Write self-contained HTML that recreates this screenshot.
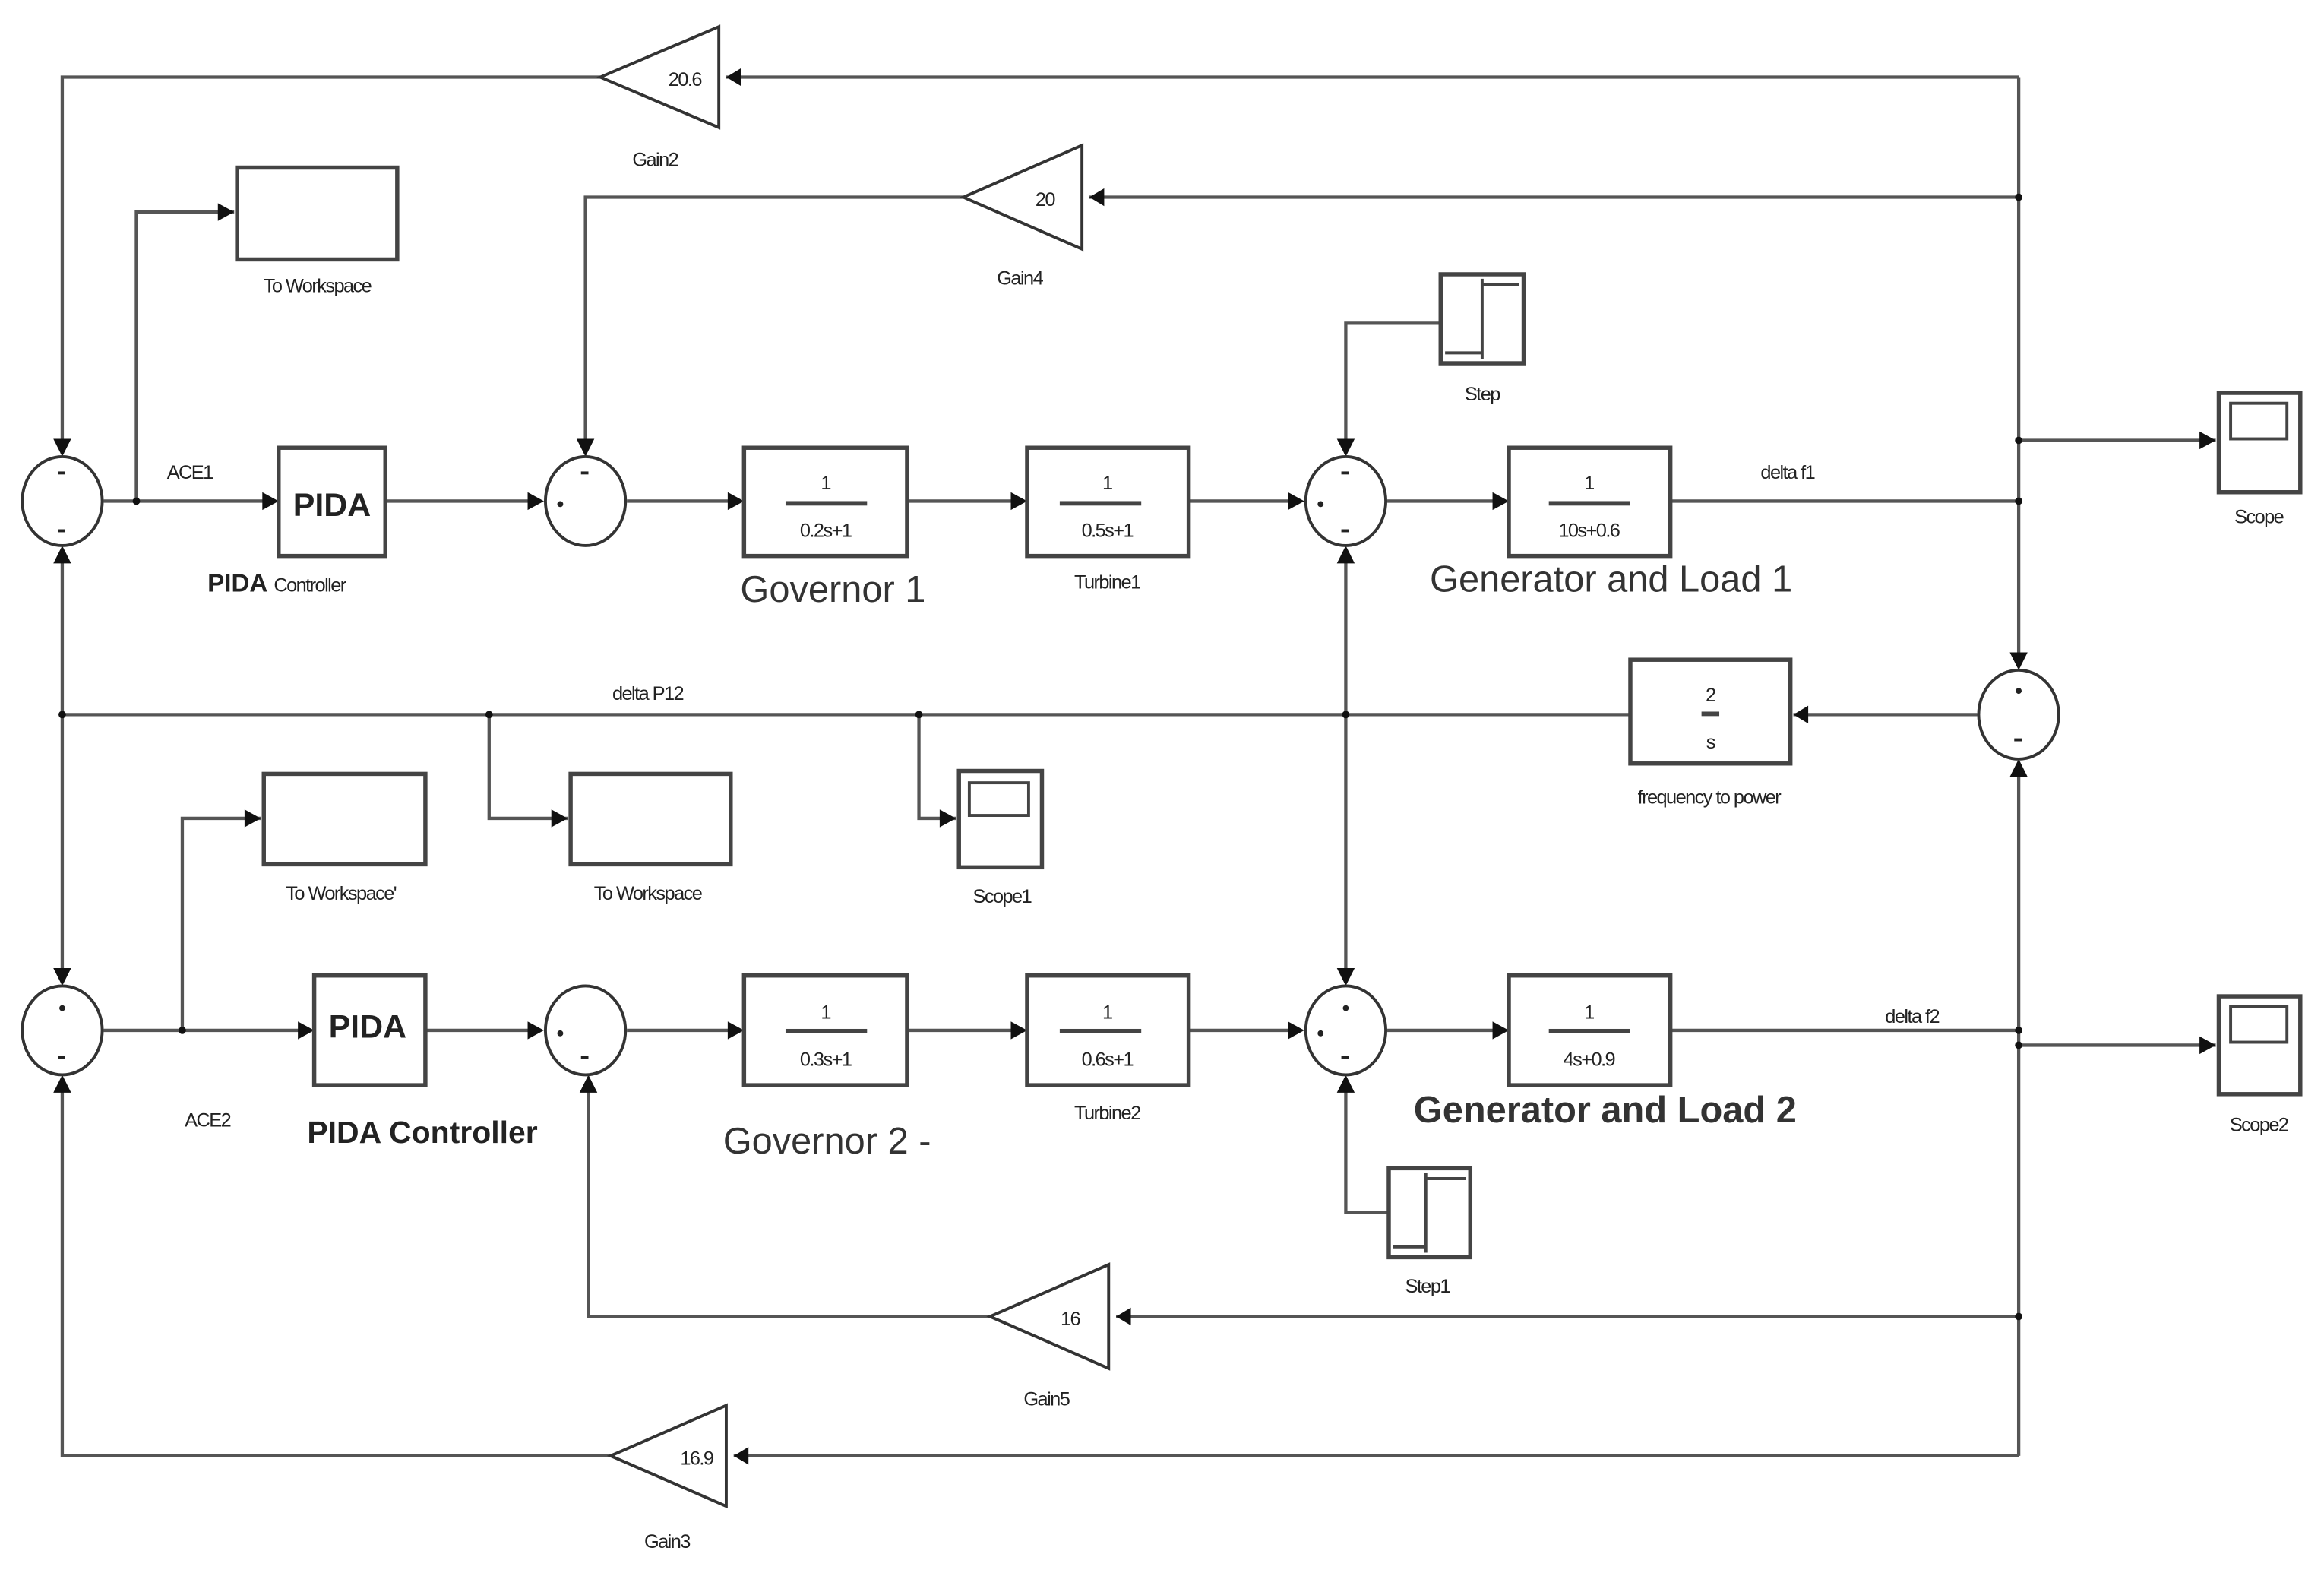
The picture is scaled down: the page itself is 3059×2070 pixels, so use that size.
<!DOCTYPE html>
<html><head><meta charset="utf-8"><style>
html,body{margin:0;padding:0;background:#fff;}
svg{display:block;}
text{font-family:"Liberation Sans",sans-serif;fill:#222;}
.s{font-size:13px;letter-spacing:-0.8px;}
.big{font-size:25px;fill:#333;}
</style></head><body>
<svg width="3059" height="2070" viewBox="0 0 1568 1061" xmlns="http://www.w3.org/2000/svg">
<g stroke="#555" stroke-width="2.2" fill="none">
<!-- top gain2 loop -->
<polyline points="1362,52 490,52"/>
<polyline points="405,52 42,52 42,306"/>
<!-- gain4 -->
<polyline points="1362,133 735,133"/>
<polyline points="650,133 395,133 395,306"/>
<!-- right vertical -->
<line x1="1362" y1="52" x2="1362" y2="450"/>
<line x1="1362" y1="514" x2="1362" y2="982"/>
<line x1="1362" y1="297" x2="1495" y2="297"/>
<line x1="1127" y1="338" x2="1362" y2="338"/>
<!-- row 1 -->
<line x1="70" y1="338" x2="186" y2="338"/>
<polyline points="92,338 92,143 158,143"/>
<line x1="260" y1="338" x2="365" y2="338"/>
<line x1="423" y1="338" x2="500" y2="338"/>
<line x1="612" y1="338" x2="691" y2="338"/>
<line x1="802" y1="338" x2="878" y2="338"/>
<line x1="936" y1="338" x2="1016" y2="338"/>
<polyline points="972,218 908,218 908,306"/>
<!-- delta P12 -->
<line x1="1334" y1="482" x2="1210" y2="482"/>
<line x1="1100" y1="482" x2="42" y2="482"/>
<line x1="42" y1="370" x2="42" y2="663"/>
<line x1="908" y1="370" x2="908" y2="663"/>
<polyline points="330,482 330,552 383,552"/>
<polyline points="620,482 620,552 645,552"/>
<!-- row 2 -->
<line x1="70" y1="695" x2="210" y2="695"/>
<polyline points="123,695 123,552 176,552"/>
<line x1="287" y1="695" x2="365" y2="695"/>
<line x1="423" y1="695" x2="500" y2="695"/>
<line x1="612" y1="695" x2="691" y2="695"/>
<line x1="802" y1="695" x2="878" y2="695"/>
<line x1="936" y1="695" x2="1016" y2="695"/>
<line x1="1127" y1="695" x2="1362" y2="695"/>
<line x1="1362" y1="705" x2="1495" y2="705"/>
<polyline points="937,818 908,818 908,727"/>
<!-- gain5 -->
<line x1="1362" y1="888" x2="753" y2="888"/>
<polyline points="668,888 397,888 397,727"/>
<!-- gain3 -->
<line x1="1362" y1="982" x2="495" y2="982"/>
<polyline points="412,982 42,982 42,727"/>
</g>
<!-- arrowheads -->
<g fill="#111">
<polygon points="490,52 500,46 500,58"/>
<polygon points="735,133 745,127 745,139"/>
<polygon points="753,888 763,882 763,894"/>
<polygon points="495,982 505,976 505,988"/>
<polygon points="42,308 36,296 48,296"/>
<polygon points="42,368 36,380 48,380"/>
<polygon points="42,665 36,653 48,653"/>
<polygon points="42,725 36,737 48,737"/>
<polygon points="395,308 389,296 401,296"/>
<polygon points="397,725 391,737 403,737"/>
<polygon points="908,308 902,296 914,296"/>
<polygon points="908,368 902,380 914,380"/>
<polygon points="908,665 902,653 914,653"/>
<polygon points="908,725 902,737 914,737"/>
<polygon points="1362,452 1356,440 1368,440"/>
<polygon points="1362,512 1356,524 1368,524"/>
<polygon points="1210,482 1220,476 1220,488"/>
<polygon points="158,143 147,137 147,149"/>
<polygon points="176,552 165,546 165,558"/>
<polygon points="383,552 372,546 372,558"/>
<polygon points="645,552 634,546 634,558"/>
<polygon points="1495,297 1484,291 1484,303"/>
<polygon points="1495,705 1484,699 1484,711"/>
<polygon points="188,338 177,332 177,344"/>
<polygon points="212,695 201,689 201,701"/>
<polygon points="367,338 356,332 356,344"/>
<polygon points="367,695 356,689 356,701"/>
<polygon points="502,338 491,332 491,344"/>
<polygon points="502,695 491,689 491,701"/>
<polygon points="693,338 682,332 682,344"/>
<polygon points="693,695 682,689 682,701"/>
<polygon points="880,338 869,332 869,344"/>
<polygon points="880,695 869,689 869,701"/>
<polygon points="1018,338 1007,332 1007,344"/>
<polygon points="1018,695 1007,689 1007,701"/>
<!-- junction dots -->
<circle cx="92" cy="338" r="2.5"/><circle cx="123" cy="695" r="2.5"/>
<circle cx="42" cy="482" r="2.5"/><circle cx="330" cy="482" r="2.5"/>
<circle cx="620" cy="482" r="2.5"/><circle cx="908" cy="482" r="2.5"/>
<circle cx="1362" cy="133" r="2.5"/><circle cx="1362" cy="297" r="2.5"/>
<circle cx="1362" cy="338" r="2.5"/><circle cx="1362" cy="695" r="2.5"/>
<circle cx="1362" cy="705" r="2.5"/><circle cx="1362" cy="888" r="2.5"/>
</g>
<!-- blocks -->
<g stroke="#444" stroke-width="2.8" fill="#fff">
<rect x="160" y="113" width="108" height="62"/>
<rect x="188" y="302" width="72" height="73"/>
<rect x="502" y="302" width="110" height="73"/>
<rect x="693" y="302" width="109" height="73"/>
<rect x="1018" y="302" width="109" height="73"/>
<rect x="972" y="185" width="56" height="60"/>
<rect x="1100" y="445" width="108" height="70"/>
<rect x="1497" y="265" width="55" height="67"/>
<rect x="178" y="522" width="109" height="61"/>
<rect x="385" y="522" width="108" height="61"/>
<rect x="647" y="520" width="56" height="65"/>
<rect x="212" y="658" width="75" height="74"/>
<rect x="502" y="658" width="110" height="74"/>
<rect x="693" y="658" width="109" height="74"/>
<rect x="1018" y="658" width="109" height="74"/>
<rect x="937" y="788" width="55" height="60"/>
<rect x="1497" y="672" width="55" height="66"/>
</g>
<g stroke="#444" stroke-width="2" fill="none">
<rect x="1505" y="272" width="38" height="24"/>
<rect x="1505" y="679" width="38" height="24"/>
<rect x="654" y="528" width="40" height="22"/>
<line x1="1000" y1="188" x2="1000" y2="242"/><line x1="1000" y1="192" x2="1025" y2="192"/><line x1="975" y1="238" x2="1000" y2="238"/>
<line x1="962" y1="791" x2="962" y2="845"/><line x1="962" y1="795" x2="989" y2="795"/><line x1="940" y1="841" x2="962" y2="841"/>
</g>
<!-- gains -->
<g stroke="#333" stroke-width="2" fill="#fff">
<polygon points="405,52 485,18 485,86"/>
<polygon points="650,133 730,98 730,168"/>
<polygon points="668,888 748,853 748,923"/>
<polygon points="412,982 490,948 490,1016"/>
</g>
<!-- sums -->
<g stroke="#333" stroke-width="2" fill="#fff">
<ellipse cx="42" cy="338" rx="27" ry="30"/>
<ellipse cx="395" cy="338" rx="27" ry="30"/>
<ellipse cx="908" cy="338" rx="27" ry="30"/>
<ellipse cx="1362" cy="482" rx="27" ry="30"/>
<ellipse cx="42" cy="695" rx="27" ry="30"/>
<ellipse cx="395" cy="695" rx="27" ry="30"/>
<ellipse cx="908" cy="695" rx="27" ry="30"/>
</g>
<g fill="#222">
<rect x="39" y="318" width="5" height="2"/><rect x="39" y="357" width="5" height="2"/>
<rect x="392" y="318" width="5" height="2"/><circle cx="378" cy="340" r="2"/>
<rect x="905" y="318" width="5" height="2"/><circle cx="891" cy="340" r="2"/><rect x="905" y="357" width="5" height="2"/>
<circle cx="1362" cy="466" r="2"/><rect x="1359" y="498" width="5" height="2"/>
<circle cx="42" cy="680" r="2"/><rect x="39" y="712" width="5" height="2"/>
<circle cx="378" cy="697" r="2"/><rect x="392" y="712" width="5" height="2"/>
<circle cx="908" cy="680" r="2"/><circle cx="891" cy="697" r="2"/><rect x="905" y="712" width="5" height="2"/>
</g>
<!-- fraction bars -->
<g fill="#444">
<rect x="530" y="338" width="55" height="3"/><rect x="715" y="338" width="55" height="3"/>
<rect x="1045" y="338" width="55" height="3"/><rect x="1148" y="480" width="12" height="3"/>
<rect x="530" y="694" width="55" height="3"/><rect x="715" y="694" width="55" height="3"/>
<rect x="1045" y="694" width="55" height="3"/>
</g>
<g text-anchor="middle">
<text x="557" y="330" class="s" font-size="16">1</text><text x="557" y="362" class="s" font-size="14">0.2s+1</text>
<text x="747" y="330" class="s" font-size="16">1</text><text x="747" y="362" class="s" font-size="14">0.5s+1</text>
<text x="1072" y="330" class="s" font-size="16">1</text><text x="1072" y="362" class="s" font-size="14">10s+0.6</text>
<text x="1154" y="473" class="s" font-size="16">2</text><text x="1154" y="505" class="s" font-size="14">s</text>
<text x="557" y="687" class="s" font-size="16">1</text><text x="557" y="719" class="s" font-size="14">0.3s+1</text>
<text x="747" y="687" class="s" font-size="16">1</text><text x="747" y="719" class="s" font-size="14">0.6s+1</text>
<text x="1072" y="687" class="s" font-size="16">1</text><text x="1072" y="719" class="s" font-size="14">4s+0.9</text>
<text x="224" y="348" font-size="22" font-weight="bold">PIDA</text>
<text x="248" y="700" font-size="22" font-weight="bold">PIDA</text>
<text x="462" y="58" class="s" font-size="15">20.6</text>
<text x="705" y="139" class="s" font-size="15">20</text>
<text x="722" y="894" class="s" font-size="15">16</text>
<text x="470" y="988" class="s" font-size="15">16.9</text>
<text x="442" y="112" class="s">Gain2</text>
<text x="688" y="192" class="s">Gain4</text>
<text x="706" y="948" class="s">Gain5</text>
<text x="450" y="1044" class="s">Gain3</text>
<text x="214" y="197" class="s">To Workspace</text>
<text x="230" y="607" class="s">To Workspace'</text>
<text x="437" y="607" class="s">To Workspace</text>
<text x="676" y="609" class="s">Scope1</text>
<text x="1000" y="270" class="s">Step</text>
<text x="963" y="872" class="s">Step1</text>
<text x="1524" y="353" class="s">Scope</text>
<text x="1524" y="763" class="s">Scope2</text>
<text x="1153" y="542" class="s">frequency to power</text>
<text x="747" y="397" class="s">Turbine1</text>
<text x="747" y="755" class="s">Turbine2</text>
<text x="128" y="323" class="s" font-size="14">ACE1</text>
<text x="140" y="760" class="s" font-size="14">ACE2</text>
<text x="437" y="472" class="s" font-size="14">delta P12</text>
<text x="1206" y="323" class="s" font-size="14">delta f1</text>
<text x="1290" y="690" class="s" font-size="14">delta f2</text>
<text x="562" y="406" class="big">Governor 1</text>
<text x="558" y="778" class="big">Governor 2 -</text>
<text x="1087" y="399" class="big">Generator and Load 1</text>
<text x="1083" y="757" class="big" font-weight="bold" fill="#222">Generator and Load 2</text>
<text x="285" y="771" font-size="21" font-weight="bold">PIDA Controller</text>
</g>
<text x="140" y="399" font-size="17" font-weight="bold">PIDA <tspan font-size="13" font-weight="normal" letter-spacing="-0.8">Controller</tspan></text>
</svg>
</body></html>
